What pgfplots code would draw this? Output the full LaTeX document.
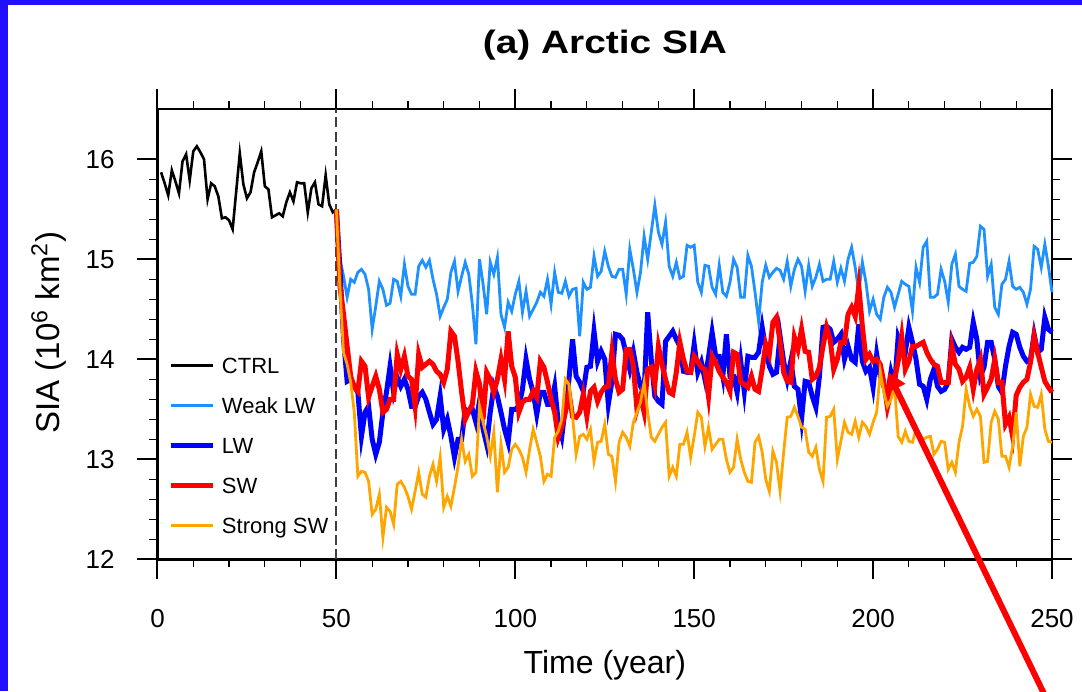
\documentclass[border=0pt]{standalone}
\usepackage{fontspec}
\setmainfont{Liberation Sans}
\newfontfamily\titlefont[FakeStretch=1.2]{Liberation Sans}
\usepackage{pgfplots}
\pgfplotsset{compat=1.18}
\usetikzlibrary{arrows.meta}
\definecolor{weaklw}{RGB}{30,144,255}
\definecolor{strongsw}{RGB}{255,165,0}
\definecolor{frameblue}{RGB}{32,16,255}

\begin{document}
\begin{tikzpicture}
\begin{axis}[
  scale only axis, width=447.25pt, height=225pt,
  xmin=0, xmax=250, ymin=12, ymax=16.5,
  xtick={0,50,...,250}, ytick={12,13,14,15,16},
  minor x tick num=4, minor y tick num=4,
  tick align=outside,
  major tick length=10pt, minor tick length=4pt,
  every major tick/.style={line width=1pt, black},
  every minor tick/.style={line width=0.6pt, black},
  axis line style={line width=1.2pt},
  tick label style={font=\fontsize{13}{13}\selectfont, inner sep=0pt},
  /pgf/number format/assume math mode=true,
  xticklabel style={anchor=base, yshift=-23.85pt},
  yticklabel style={anchor=east, xshift=-11.25pt},
  clip=false,
  legend style={draw=none, fill=none, inner sep=0pt, at={(0.01174,0.4496)}, anchor=north west,
     row sep=12pt, column sep=3.3pt,
     nodes={inner sep=0pt, text height=8pt, text depth=0pt, font=\fontsize{11}{11}\selectfont}},
  legend cell align=left,
  legend image code/.code={\draw[#1] (0pt,0pt) -- (21pt,0pt);},
]
\draw[black!75, line width=0.9pt, dash pattern=on 5pt off 2.2pt] (axis cs:50,12) -- (axis cs:50,16.5);

\addplot[black, line width=1.3pt] table {
1 15.87
2 15.76
3 15.64
4 15.89
5 15.78
6 15.66
7 15.98
8 16.05
9 15.79
10 16.08
11 16.13
12 16.07
13 16.00
14 15.60
15 15.76
16 15.73
17 15.63
18 15.41
19 15.42
20 15.39
21 15.30
22 15.68
23 16.06
24 15.75
25 15.61
26 15.67
27 15.87
28 15.97
29 16.08
30 15.73
31 15.70
32 15.42
33 15.44
34 15.46
35 15.43
36 15.57
37 15.67
38 15.58
39 15.77
40 15.76
41 15.76
42 15.47
43 15.71
44 15.77
45 15.55
46 15.53
47 15.84
48 15.55
49 15.47
50 15.50
};
\addlegendentry{CTRL}

\addplot[weaklw, line width=1.4pt] table {
50 15.5
51 15.0
52 14.83
53 14.62
54 14.8
55 14.77
56 14.87
57 14.9
58 14.85
59 14.7
60 14.3
61 14.53
62 14.78
63 14.7
64 14.54
65 14.56
66 14.8
67 14.78
68 14.63
69 14.95
70 14.73
71 14.65
72 14.65
73 14.93
74 14.99
75 14.92
76 14.99
77 14.8
78 14.65
79 14.43
80 14.52
81 14.6
82 14.87
83 14.98
84 14.68
85 14.83
86 14.97
87 14.85
88 14.55
89 14.15
90 15.0
91 14.75
92 14.45
93 14.97
94 14.85
95 15.02
96 14.45
97 14.32
98 14.57
99 14.48
100 14.65
101 14.78
102 14.47
103 14.68
104 14.43
105 14.5
106 14.57
107 14.67
108 14.63
109 14.8
110 14.55
111 14.87
112 14.67
113 14.66
114 14.78
115 14.63
116 14.7
117 14.71
118 14.23
119 14.77
120 14.7
121 14.72
122 15.03
123 14.83
124 14.88
125 15.08
126 14.93
127 14.83
128 14.82
129 14.9
130 14.9
131 14.65
132 15.1
133 14.9
134 14.67
135 14.87
136 15.23
137 15.0
138 15.27
139 15.54
140 15.27
141 15.15
142 15.37
143 14.93
144 14.83
145 14.97
146 14.81
147 14.83
148 15.14
149 15.12
150 15.14
151 14.77
152 14.67
153 14.94
154 14.93
155 14.72
156 14.65
157 14.94
158 14.67
159 14.63
160 14.77
161 15.0
162 14.92
163 14.62
164 14.62
165 15.04
166 14.93
167 14.67
168 14.38
169 14.77
170 14.94
171 14.82
172 14.87
173 14.91
174 14.89
175 14.8
176 14.98
177 14.73
178 14.9
179 15.0
180 14.93
181 14.68
182 14.94
183 14.73
184 14.82
185 14.95
186 14.78
187 14.8
188 14.8
189 14.98
190 14.77
191 14.91
192 14.78
193 15.0
194 15.12
195 14.92
196 14.67
197 14.97
198 14.77
199 14.48
200 14.6
201 14.45
202 14.4
203 14.62
204 14.72
205 14.67
206 14.52
207 14.65
208 14.78
209 14.75
210 14.73
211 14.48
212 14.92
213 14.77
214 15.12
215 15.18
216 14.62
217 14.62
218 14.65
219 14.9
220 14.78
221 14.57
222 14.95
223 15.05
224 14.73
225 14.7
226 14.68
227 14.96
228 14.97
229 15.03
230 15.33
231 15.3
232 14.83
233 14.95
234 14.52
235 14.45
236 14.75
237 14.8
238 14.98
239 14.73
240 14.7
241 14.72
242 14.67
243 14.55
244 14.7
245 15.13
246 15.1
247 14.92
248 15.15
249 14.93
250 14.67
};
\addlegendentry{Weak LW}

\addplot[blue, line width=2.5pt] table {
50 15.5
51 14.9
52 14.2
53 13.78
54 13.8
55 13.73
56 13.67
57 13.23
58 13.47
59 13.53
60 13.2
61 13.05
62 13.17
63 13.47
64 13.67
65 13.93
66 13.67
67 13.82
68 13.73
69 13.8
70 13.7
71 13.53
72 13.53
73 13.63
74 13.67
75 13.6
76 13.47
77 13.35
78 13.4
79 13.63
80 13.3
81 13.4
82 13.23
83 13.02
84 13.2
85 13.2
86 13.5
87 13.47
88 13.5
89 13.37
90 13.58
91 13.3
92 13.15
93 13.47
94 13.73
95 13.63
96 13.47
97 13.3
98 13.17
99 13.5
100 13.5
101 13.53
102 13.7
103 14.0
104 13.8
105 13.67
106 13.45
107 13.67
108 13.67
109 13.55
110 13.55
111 13.73
112 13.37
113 13.23
114 13.53
115 13.8
116 14.2
117 13.83
118 13.77
119 13.68
120 13.92
121 13.93
122 14.28
123 13.98
124 14.08
125 14.0
126 13.55
127 13.78
128 14.25
129 14.24
130 14.2
131 14.05
132 13.9
133 14.07
134 13.87
135 13.73
136 13.67
137 14.47
138 14.0
139 13.63
140 13.58
141 13.55
142 14.18
143 14.23
144 14.28
145 14.2
146 14.13
147 13.88
148 13.87
149 13.87
150 14.15
151 13.87
152 13.97
153 13.8
154 14.02
155 14.27
156 14.03
157 14.03
158 13.83
159 14.25
160 13.83
161 13.83
162 13.67
163 13.98
164 13.68
165 14.03
166 14.02
167 14.02
168 14.07
169 14.32
170 14.1
171 13.93
172 13.85
173 13.87
174 14.23
175 13.98
176 13.8
177 13.98
178 13.73
179 13.7
180 13.4
181 13.78
182 13.77
183 13.63
184 13.52
185 13.83
186 14.32
187 14.33
188 14.3
189 14.17
190 14.2
191 14.25
192 14.0
193 14.13
194 14.0
195 13.97
196 14.35
197 13.98
198 13.88
199 13.92
200 13.72
201 14.05
202 13.83
203 13.73
204 13.63
205 13.87
206 13.73
207 14.22
208 14.12
209 14.07
210 14.32
211 14.17
212 14.0
213 13.75
214 13.73
215 13.6
216 13.8
217 13.9
218 13.73
219 13.68
220 13.7
221 13.77
222 14.2
223 14.12
224 14.07
225 14.12
226 14.1
227 14.12
228 14.37
229 14.2
230 13.83
231 13.92
232 14.17
233 14.17
234 14.0
235 13.73
236 13.67
237 13.93
238 14.13
239 14.27
240 14.25
241 14.12
242 14.03
243 13.98
244 14.0
245 14.25
246 14.07
247 14.1
248 14.42
249 14.3
250 14.27
};
\addlegendentry{LW}

\addplot[red, line width=2.5pt] table {
50 15.5
51 14.73
52 14.45
53 14.13
54 13.83
55 13.72
56 13.68
57 13.98
58 13.93
59 13.62
60 13.73
61 13.83
62 13.7
63 13.47
64 13.5
65 13.6
66 13.6
67 14.05
68 13.9
69 14.03
70 13.83
71 13.8
72 13.53
73 14.05
74 13.92
75 13.95
76 13.98
77 13.95
78 13.88
79 13.85
80 13.77
81 13.9
82 14.28
83 14.23
84 13.98
85 13.67
86 13.4
87 13.48
88 13.55
89 13.88
90 13.75
91 13.4
92 13.87
93 13.8
94 13.67
95 13.8
96 14.0
97 13.8
98 14.28
99 13.93
100 13.82
101 13.47
102 13.57
103 13.6
104 13.6
105 13.68
106 13.62
107 13.98
108 13.92
109 13.77
110 13.6
111 13.47
112 13.22
113 13.33
114 13.47
115 13.67
116 13.43
117 13.42
118 13.47
119 13.65
120 13.43
121 13.68
122 13.72
123 13.58
124 13.67
125 13.72
126 13.73
127 14.07
128 13.8
129 13.67
130 13.7
131 14.1
132 14.1
133 13.93
134 13.5
135 13.63
136 13.47
137 13.9
138 13.92
139 13.75
140 14.13
141 13.95
142 13.8
143 13.67
144 13.65
145 13.87
146 14.17
147 14.0
148 13.88
149 13.87
150 14.03
151 13.98
152 13.92
153 13.9
154 13.63
155 14.03
156 13.97
157 13.88
158 13.82
159 13.77
160 13.68
161 14.07
162 14.05
163 13.77
164 13.75
165 13.72
166 13.83
167 13.7
168 13.68
169 13.9
170 14.15
171 14.05
172 14.37
173 14.42
174 14.17
175 13.87
176 13.78
177 13.77
178 14.22
179 14.1
180 14.3
181 14.08
182 14.07
183 13.8
184 13.83
185 13.92
186 14.13
187 14.32
188 14.2
189 13.9
190 14.0
191 14.17
192 14.17
193 14.45
194 14.52
195 14.43
196 14.73
197 14.33
198 14.0
199 14.05
200 13.98
201 14.0
202 13.95
203 13.77
204 13.52
205 13.67
206 13.8
207 13.98
208 14.23
209 13.9
210 13.98
211 14.13
212 14.13
213 14.15
214 14.17
215 14.07
216 14.0
217 13.95
218 13.93
219 13.77
220 13.77
221 13.77
222 14.13
223 13.95
224 13.9
225 13.78
226 13.82
227 13.92
228 13.7
229 13.9
230 14.0
231 13.65
232 13.72
233 13.8
234 14.0
235 13.77
236 13.77
237 13.35
238 13.42
239 13.23
240 13.64
241 13.72
242 13.77
243 13.8
244 13.97
245 14.23
246 14.07
247 13.92
248 13.78
249 13.72
250 13.67
};
\addlegendentry{SW}

\addplot[strongsw, line width=1.4pt] table {
50 15.5
51 14.7
52 14.07
53 13.95
54 13.77
55 13.47
56 12.83
57 12.88
58 12.87
59 12.78
60 12.45
61 12.5
62 12.65
63 12.22
64 12.52
65 12.48
66 12.35
67 12.75
68 12.78
69 12.72
70 12.63
71 12.5
72 12.68
73 12.87
74 12.65
75 12.62
76 12.83
77 12.95
78 12.78
79 13.02
80 12.52
81 12.63
82 12.53
83 12.72
84 12.93
85 13.2
86 12.98
87 13.05
88 12.83
89 12.87
90 13.53
91 13.37
92 13.23
93 13.03
94 13.27
95 12.67
96 13.15
97 12.87
98 12.92
99 13.1
100 13.15
101 13.1
102 13.02
103 12.87
104 13.1
105 13.3
106 13.17
107 13.03
108 12.78
109 12.85
110 12.83
111 13.22
112 13.28
113 13.4
114 13.8
115 13.75
116 13.43
117 13.05
118 13.23
119 13.25
120 13.2
121 13.3
122 12.98
123 13.17
124 13.18
125 13.35
126 13.05
127 13.03
128 12.78
129 13.17
130 13.27
131 13.22
132 13.13
133 13.37
134 13.47
135 13.57
136 13.77
137 13.47
138 13.22
139 13.18
140 13.25
141 13.32
142 13.37
143 12.83
144 12.92
145 12.83
146 13.15
147 13.15
148 13.27
149 13.02
150 13.23
151 13.47
152 13.42
153 13.13
154 13.32
155 13.1
156 13.15
157 13.2
158 13.2
159 13.0
160 12.87
161 12.92
162 13.2
163 13.0
164 12.87
165 12.78
166 12.77
167 13.17
168 13.23
169 13.07
170 12.8
171 12.68
172 13.08
173 12.97
174 12.68
175 13.07
176 13.42
177 13.43
178 13.52
179 13.43
180 13.32
181 13.3
182 13.07
183 13.03
184 13.12
185 12.9
186 12.78
187 13.42
188 13.43
189 13.5
190 13.0
191 13.18
192 13.37
193 13.27
194 13.25
195 13.38
196 13.22
197 13.37
198 13.33
199 13.25
200 13.37
201 13.47
202 13.88
203 13.67
204 13.53
205 13.6
206 13.73
207 13.23
208 13.17
209 13.28
210 13.18
211 13.17
212 13.3
213 13.25
214 13.2
215 13.22
216 13.23
217 13.05
218 13.1
219 13.18
220 13.17
221 12.9
222 12.97
223 12.87
224 13.17
225 13.33
226 13.7
227 13.53
228 13.43
229 13.5
230 13.43
231 12.97
232 12.98
233 13.37
234 13.48
235 13.4
236 13.03
237 13.03
238 12.92
239 13.13
240 13.47
241 12.93
242 13.23
243 13.32
244 13.65
245 13.53
246 13.52
247 13.65
248 13.3
249 13.18
250 13.17
};
\addlegendentry{Strong SW}

\draw[red, line width=3pt, -{Triangle[length=9pt, width=10pt]}] (axis cs:249.2,10.55) -- (axis cs:204.2,13.87);
\end{axis}

\node[anchor=base, font=\titlefont\bfseries\fontsize{16.2}{16.2}\selectfont] at (223.7pt,253pt) {(a) Arctic SIA};
\node[anchor=base, font=\fontsize{16}{16}\selectfont] at (223.7pt,-56.85pt) {Time (year)};
\node[anchor=base, rotate=90, font=\fontsize{16.5}{16.5}\selectfont] at (-48.75pt,113.4pt) {SIA (10\textsuperscript{6} km\textsuperscript{2})};

\fill[frameblue] (-78.75pt,-65.85pt) rectangle (-74.6pt,279.65pt);
\fill[frameblue] (-78.75pt,277.15pt) rectangle (462.25pt,279.65pt);

\pgfresetboundingbox
\path[use as bounding box] (-78.75pt,-65.85pt) rectangle (462.25pt,279.65pt);
\end{tikzpicture}
\end{document}
